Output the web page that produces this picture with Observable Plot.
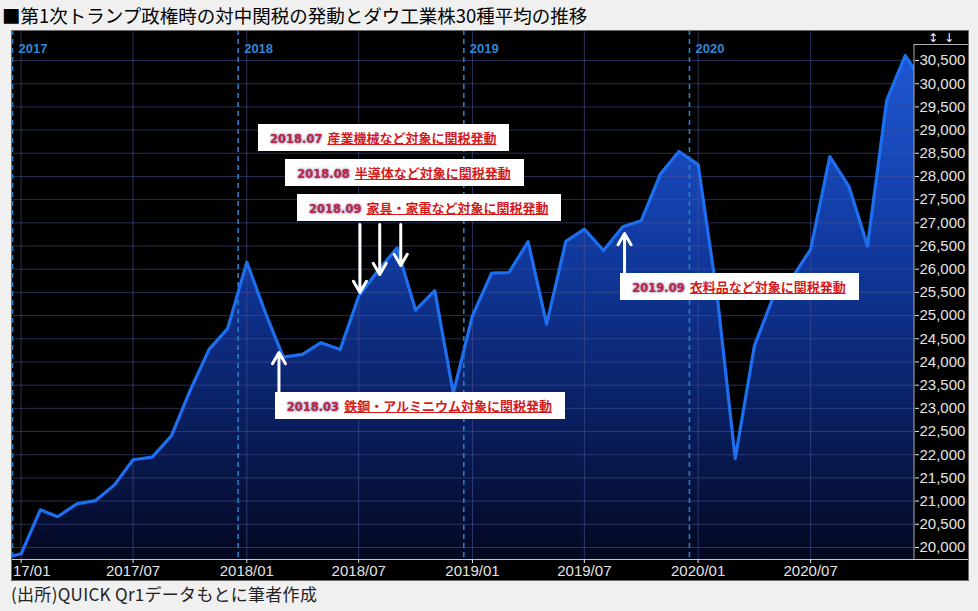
<!DOCTYPE html>
<html><head><meta charset="utf-8">
<script src="https://cdn.jsdelivr.net/npm/d3@7"></script>
<script src="https://cdn.jsdelivr.net/npm/@observablehq/plot@0.6"></script>
<style>
body{margin:0;background:#f0f0f0;width:978px;height:611px;overflow:hidden;position:relative;}
#title{position:absolute;left:2px;top:5px;font-family:"Noto Sans CJK JP",sans-serif;font-size:18.5px;line-height:21px;color:#000;white-space:nowrap;}
#panel{position:absolute;left:11px;top:30px;width:958px;height:551px;overflow:hidden;background:#000;}
#panel svg{display:block;}
#caption{position:absolute;left:11px;top:583px;font-family:"Noto Sans CJK JP",sans-serif;font-size:17px;letter-spacing:0.3px;line-height:21px;color:#222;white-space:nowrap;}
.note{position:absolute;background:#fff;height:27px;line-height:27px;padding:0 13px 0 12px;white-space:nowrap;}
.note .d{font-family:"DejaVu Sans",sans-serif;font-weight:bold;font-size:11.5px;color:#c22839;text-shadow:0 0 3px rgba(100,90,170,.9),0 0 1px rgba(120,110,180,.8);}
.note .t{font-family:"Noto Sans CJK JP",sans-serif;font-weight:bold;font-size:13px;color:#d41a1a;text-decoration:underline;margin-left:5px;}
</style></head>
<body>
<div id="title">■第1次トランプ政権時の対中関税の発動とダウ工業株30種平均の推移</div>
<div id="panel"></div>
<div id="caption">(出所)QUICK Qr1データもとに筆者作成</div>
<script>
// Monthly closes (month positions)
const months = ["2016-12","2017-01","2017-02","2017-03","2017-04","2017-05","2017-06","2017-07","2017-08","2017-09","2017-10","2017-11","2017-12",
"2018-01","2018-02","2018-03","2018-04","2018-05","2018-06","2018-07","2018-08","2018-09","2018-10","2018-11","2018-12",
"2019-01","2019-02","2019-03","2019-04","2019-05","2019-06","2019-07","2019-08","2019-09","2019-10","2019-11","2019-12",
"2020-01","2020-02","2020-03","2020-04","2020-05","2020-06","2020-07","2020-08","2020-09","2020-10","2020-11","2020-12","2021-01"];
const dow = [19763,19864,20812,20663,20941,21009,21350,21891,21948,22405,23377,24272,24719,
26149,25029,24103,24163,24416,24271,25415,25965,26458,25116,25538,23327,
25000,25916,25929,26593,24815,26600,26864,26403,26917,27046,28051,28538,
28256,25409,21917,24346,25383,25813,26428,28430,27782,26502,29639,30606,29983];

const xTickMonths = ["2017-01","2017-07","2018-01","2018-07","2019-01","2019-07","2020-01","2020-07"];
const firstTickLabel = "17/01";
const yTicks = [20000,20500,21000,21500,22000,22500,23000,23500,24000,24500,25000,25500,26000,26500,27000,27500,28000,28500,29000,29500,30000,30500];
const yearLabels = ["2017","2018","2019","2020"];

// Annotations
const noteLabels = ["2018.03","2018.07","2018.08","2018.09","2019.09"];
const noteTexts = ["鉄鋼・アルミニウム対象に関税発動","産業機械など対象に関税発動","半導体など対象に関税発動","家具・家電など対象に関税発動","衣料品など対象に関税発動"];
const arrowDates = ["2018-02-22","2018-07-03","2018-08-04","2018-09-07","2019-09-04"];
const arrowFrom = [23342,26964,26964,26964,25908];
const arrowTo = [24204,25498,25886,26080,26770];
const boxDates = ["2018-02-16","2018-01-20","2018-03-05","2018-03-24","2019-08-29"];
const boxTops = [23342,29120,28366,27611,25908];

const data = months.map((m,i)=>({date:new Date(m+"-01"), value:dow[i]}));
const xTicks = xTickMonths.map(m=>new Date(m+"-01"));
const seps = yearLabels.map(y=>({date:new Date(Date.UTC(+y-1,11,18)), label:y}));
const arrows = arrowDates.map((d,i)=>({date:new Date(d), from:arrowFrom[i], to:arrowTo[i]}));

const W=958,H=551,mR=55,mB=22;
const yDomain=[19741,31147];
const fmt = d3.utcFormat("%Y/%m");
const plot = Plot.plot({
  width:W, height:H,
  marginLeft:1, marginRight:mR, marginTop:0, marginBottom:mB,
  style:{background:"#000", color:"#e4e4e4", fontSize:"15px", fontFamily:"'Liberation Sans', Arial, sans-serif", overflow:"hidden"},
  x:{type:"utc", domain:[new Date(Date.UTC(2016,11,18)), new Date(Date.UTC(2020,11,16))], ticks:xTicks, tickFormat:(d,i)=> (+d===+xTicks[0] ? firstTickLabel : fmt(d)), tickSize:4, tickPadding:2, label:null},
  y:{domain:yDomain, axis:"right", ticks:yTicks, tickFormat:d3.format(","), tickSize:4, tickPadding:1, label:null},
  marks:[
    Plot.areaY(data,{x:"date", y1:yDomain[0], y2:"value", fill:"url(#areaGrad)", clip:true}),
    Plot.ruleY(yTicks,{stroke:"rgb(72,84,150)", strokeOpacity:0.55, strokeWidth:1}),
    Plot.ruleX(xTicks,{stroke:"rgb(72,84,150)", strokeOpacity:0.6, strokeWidth:1}),
    Plot.ruleX(seps,{x:"date", stroke:"#2a7ec4", strokeWidth:1.6, strokeDasharray:"5,4"}),
    Plot.line(data,{x:"date", y:"value", stroke:"#1d6ff0", strokeWidth:3.2, clip:true}),
    Plot.arrow(arrows,{x1:"date", x2:"date", y1:"from", y2:"to", stroke:"#fff", strokeWidth:3, headLength:6.5}),
    Plot.text(seps,{x:"date", frameAnchor:"top", dy:13, dx:6, textAnchor:"start", text:"label", fill:"#2e88d8", fontWeight:"bold", fontSize:13})
  ]
});

const svg = d3.select(plot);
const grad = svg.insert("defs",":first-child").append("linearGradient")
  .attr("id","areaGrad").attr("gradientUnits","userSpaceOnUse")
  .attr("x1",0).attr("x2",0).attr("y1",30).attr("y2",H-mB);
[[0,"#1e56d2"],[0.4,"#10389c"],[0.7,"#0a2064"],[1,"#040820"]].forEach(([o,c])=>grad.append("stop").attr("offset",o).attr("stop-color",c));

// first tick label starts at the left edge of the panel
const sx = plot.scale("x"), sy = plot.scale("y");
svg.selectAll("text").filter(function(){return this.textContent===firstTickLabel;})
  .attr("text-anchor","start").attr("dx", 1.5 - sx.apply(xTicks[0]));

const pr=W-mR, pb=H-mB;
const chrome = svg.append("g");
chrome.append("line").attr("x1",pr).attr("x2",pr).attr("y1",14).attr("y2",pb).attr("stroke","#b0b0b0");
chrome.append("line").attr("x1",0).attr("x2",W).attr("y1",pb+0.5).attr("y2",pb+0.5).attr("stroke","#c8c8c8");
chrome.append("line").attr("x1",pr).attr("x2",W).attr("y1",14.5).attr("y2",14.5).attr("stroke","#b0b0b0");
chrome.append("text").attr("x",pr+19).attr("y",8).attr("dy","0.35em").attr("text-anchor","middle").attr("fill","#fff").attr("font-family","DejaVu Sans").attr("font-size",12).text("↕");
chrome.append("text").attr("x",pr+35).attr("y",8).attr("dy","0.35em").attr("text-anchor","middle").attr("fill","#fff").attr("font-family","DejaVu Sans").attr("font-size",12).text("↓");
chrome.append("rect").attr("x",0.5).attr("y",0.5).attr("width",W-1).attr("height",H-1).attr("fill","none").attr("stroke","#6a6a6a");

const panel = document.getElementById("panel");
panel.appendChild(plot);
noteLabels.forEach((lab,i)=>{
  const div = document.createElement("div");
  div.className="note";
  div.style.left = sx.apply(new Date(boxDates[i]))+"px";
  div.style.top = sy.apply(boxTops[i])+"px";
  div.innerHTML = `<span class="d">${lab}</span><span class="t">${noteTexts[i]}</span>`;
  panel.appendChild(div);
});
</script>
</body></html>
